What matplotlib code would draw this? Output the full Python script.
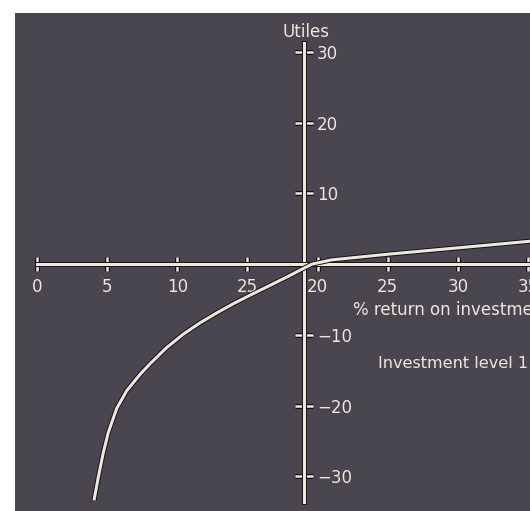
import numpy as np
import matplotlib
matplotlib.use('Agg')
import matplotlib.pyplot as plt
import matplotlib.patheffects as pe

# --data--
return_pct = [4.06, 4.37, 4.73, 5.08, 5.68, 6.39, 7.34, 8.05, 9.24, 10.43,
              11.62, 12.81, 13.99, 15.18, 16.61, 18.03, 19.0, 19.6, 21.0,
              25.0, 30.0, 35.5]
utiles = [-33.4, -30.1, -26.6, -23.8, -20.4, -17.9, -15.6, -14.1, -11.8, -9.9,
          -8.3, -6.9, -5.6, -4.4, -3.0, -1.6, -0.6, 0.0, 0.6,
          1.4, 2.3, 3.3]

x_ticks = [0, 5, 10, 15, 20, 25, 30, 35]
x_tick_labels = ['0', '5', '10', '25', '20', '25', '30', '35']  # "25" at 15 as on the slide
y_ticks = [-30, -20, -10, 10, 20, 30]
y_tick_labels = ['\u221230', '\u221220', '\u221210', '10', '20', '30']

bg = '#4a4650'
fg = '#ece8dc'
outline = [pe.Stroke(linewidth=3.6, foreground='#141216'), pe.Normal()]

fig = plt.figure(figsize=(5.3, 5.11), dpi=100, facecolor='white')
ax = fig.add_axes([15 / 530, 0, 515 / 530, 498 / 511])
ax.set_facecolor(bg)

ax.plot(return_pct, utiles, color=fg, lw=2.2, path_effects=outline,
        solid_capstyle='butt', solid_joinstyle='round', zorder=3)

ax.set_xlim(-1.57, 35.14)
ax.set_ylim(-34.9, 35.5)

# axes drawn as crossing lines: y axis sits at x=19
for side in ['left', 'top']:
    ax.spines[side].set_visible(False)
ax.spines['bottom'].set_position(('data', 0))
ax.spines['bottom'].set_bounds(0, 36)
ax.spines['right'].set_position(('data', 19))
ax.spines['right'].set_bounds(-33.6, 31.2)
for side in ['bottom', 'right']:
    ax.spines[side].set_color(fg)
    ax.spines[side].set_linewidth(2.2)
    ax.spines[side].set_path_effects(outline)
    ax.spines[side].set_zorder(2)

ax.yaxis.set_ticks_position('right')
ax.set_xticks(x_ticks)
ax.set_xticklabels(x_tick_labels)
ax.set_yticks(y_ticks)
ax.set_yticklabels(y_tick_labels)
ax.tick_params(axis='x', direction='inout', length=10, width=1.8, color=fg,
               labelcolor=fg, labelsize=12, pad=5)
ax.tick_params(axis='y', direction='inout', length=13, width=1.8, color=fg,
               labelcolor=fg, labelsize=12, pad=3)
for tick in ax.xaxis.get_major_ticks() + ax.yaxis.get_major_ticks():
    tick.tick1line.set_path_effects(outline)
    tick.tick2line.set_path_effects(outline)

ax.text(19.2, 32.8, 'Utiles', color=fg, fontsize=12, ha='center', va='center')
ax.text(22.5, -6.5, '% return on investment', color=fg, fontsize=12,
        ha='left', va='center', clip_on=False)
ax.text(24.3, -14.0, 'Investment level 1', color=fg, fontsize=11.6,
        ha='left', va='center', clip_on=False)

fig.savefig('out.png', dpi=100, facecolor='white')
